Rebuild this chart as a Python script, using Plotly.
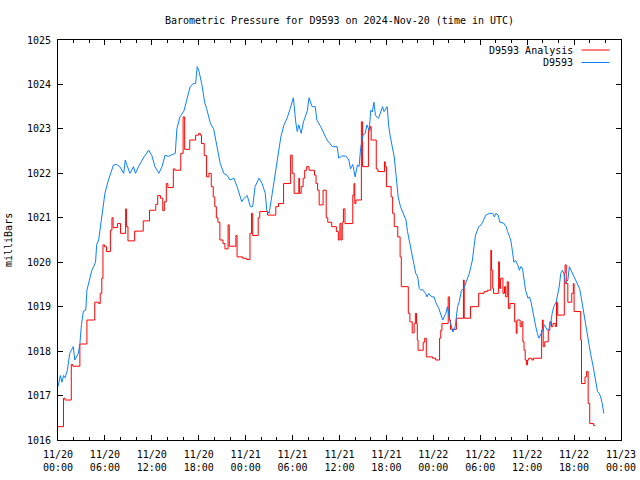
import pandas as pd
import plotly.graph_objects as go

# ---- data (hours since 2024-11-20 00:00 UTC, pressure in mbar) ----
analysis_hours = [0.0, 0.7, 0.9, 1.7, 1.9, 2.8, 3.7, 4.7, 5.2, 5.4, 5.6, 5.75, 5.95, 6.2, 6.7, 6.9,
                  7.05, 7.6, 8.0, 8.65, 8.75, 8.95, 9.8, 10.9, 11.7, 12.5, 12.75, 13.1, 13.4, 13.6,
                  13.85, 14.05, 14.75, 14.95, 15.7, 16.0, 16.2, 16.85, 17.6, 18.0, 18.2, 18.35, 18.7,
                  19.0, 19.3, 19.6, 19.85, 20.05, 20.25, 20.45, 20.7, 21.1, 21.35, 21.75, 21.9, 22.75,
                  22.9, 23.6, 24.1, 24.55, 24.75, 24.9, 25.6, 25.8, 26.8, 27.85, 28.2, 28.85, 29.75,
                  29.95, 30.2, 30.8, 30.9, 31.1, 31.35, 31.55, 31.8, 32.1, 32.8, 33.0, 33.2, 33.4,
                  33.9, 34.3, 34.5, 35.0, 35.6, 35.85, 36.05, 36.2, 36.35, 36.5, 36.7, 37.7, 37.85,
                  37.95, 38.1, 38.8, 38.95, 39.7, 39.9, 40.05, 40.7, 40.9, 41.75, 41.85, 42.0, 42.6,
                  42.8, 43.0, 43.45, 43.75, 43.9, 44.8, 45.0, 45.3, 45.55, 45.7, 45.85, 45.95, 46.05,
                  46.7, 46.9, 47.1, 47.9, 48.3, 48.8, 48.95, 49.1, 49.9, 50.05, 50.2, 50.95, 51.85,
                  51.95, 52.75, 53.8, 54.5, 54.9, 55.35, 55.45, 55.6, 55.7, 56.35, 56.45, 56.6, 56.9,
                  57.1, 57.25, 57.45, 57.6, 57.8, 58.4, 58.6, 58.7, 59.1, 59.3, 59.45, 59.6, 59.75,
                  59.9, 60.05, 60.2, 60.6, 60.8, 61.85, 61.95, 62.05, 62.25, 62.7, 62.9, 63.1, 63.3,
                  63.6, 63.75, 63.9, 64.75, 64.85, 65.0, 65.2, 65.7, 65.9, 66.0, 66.85, 66.95, 67.4,
                  67.6, 67.8, 68.0, 68.5, 68.7]
analysis_mbar = [1016.3, 1016.94, 1016.9, 1017.7, 1017.66, 1018.16, 1018.7, 1019.1, 1019.07, 1019.3,
                 1019.64, 1020.39, 1020.35, 1020.24, 1020.72, 1021.0, 1020.78, 1020.87, 1020.65,
                 1021.2, 1020.8, 1020.48, 1020.7, 1020.93, 1021.17, 1021.3, 1021.5, 1021.44, 1021.16,
                 1021.36, 1021.77, 1021.68, 1022.1, 1022.07, 1022.45, 1023.27, 1022.54, 1022.75,
                 1022.86, 1022.9, 1022.86, 1022.67, 1022.4, 1021.92, 1022.0, 1021.7, 1021.47,
                 1021.25, 1021.0, 1020.9, 1020.5, 1020.42, 1020.3, 1020.84, 1020.36, 1020.6,
                 1020.12, 1020.09, 1020.06, 1020.65, 1021.1, 1020.6, 1021.0, 1021.14, 1021.06,
                 1021.25, 1021.32, 1021.77, 1022.41, 1022.0, 1021.55, 1021.89, 1021.55, 1021.7,
                 1021.89, 1022.07, 1022.15, 1022.07, 1021.96, 1021.77, 1021.62, 1021.29, 1021.62,
                 1021.0, 1020.9, 1020.8, 1020.69, 1020.5, 1020.87, 1020.5, 1020.9, 1021.2, 1020.87,
                 1021.51, 1021.77, 1021.32, 1021.4, 1023.16, 1022.15, 1022.97, 1023.05, 1022.75,
                 1022.1, 1022.04, 1022.26, 1022.15, 1021.7, 1021.47, 1021.1, 1020.8, 1020.57,
                 1020.12, 1019.45, 1018.85, 1018.66, 1018.41, 1018.62, 1018.85, 1018.62, 1018.25,
                 1018.02, 1018.2, 1018.29, 1017.87, 1017.84, 1017.8, 1018.29, 1018.47, 1018.62,
                 1019.22, 1018.7, 1018.49, 1018.74, 1019.6, 1018.74, 1019.0, 1019.3, 1019.34,
                 1019.37, 1020.27, 1019.82, 1019.41, 1019.3, 1020.01, 1019.41, 1019.64, 1019.3,
                 1019.45, 1019.22, 1019.56, 1018.96, 1019.07, 1018.66, 1018.4, 1018.7, 1018.55,
                 1018.66, 1018.21, 1018.02, 1017.8, 1017.69, 1017.8, 1017.84, 1017.8, 1017.84,
                 1018.47, 1018.7, 1018.1, 1018.21, 1018.47, 1018.66, 1018.55, 1018.62, 1018.55,
                 1019.1, 1018.81, 1019.75, 1019.94, 1019.52, 1019.1, 1019.3, 1019.52, 1018.89,
                 1018.25, 1017.27, 1017.42, 1017.54, 1016.82, 1016.37, 1016.33, 1016.33]

station_hours = [0.0, 0.3, 0.5, 0.7, 0.9, 1.2, 1.5, 1.95, 2.15, 2.6, 2.8, 3.0, 3.25, 3.55, 3.7, 3.9,
                 4.3, 4.8, 4.95, 5.2, 5.6, 6.0, 6.45, 6.9, 7.1, 7.5, 7.9, 8.4, 8.6, 8.8, 9.2, 9.65,
                 9.9, 10.3, 11.0, 11.6, 12.0, 12.4, 12.9, 13.3, 13.7, 14.1, 14.6, 15.0, 15.2, 15.6,
                 16.1, 16.5, 16.9, 17.3, 17.6, 17.8, 18.0, 18.4, 18.75, 19.0, 19.5, 19.9, 20.3, 20.75,
                 21.2, 21.6, 22.0, 22.5, 22.9, 23.3, 23.5, 23.7, 24.2, 24.6, 24.9, 25.2, 25.7, 26.1,
                 26.5, 26.7, 27.0, 27.4, 27.8, 28.2, 28.5, 28.9, 29.3, 29.7, 30.1, 30.4, 30.6, 30.8,
                 31.1, 31.4, 31.9, 32.1, 32.5, 32.9, 33.1, 33.6, 34.0, 34.4, 35.1, 35.7, 35.9, 36.3,
                 36.8, 37.2, 37.4, 37.7, 38.0, 38.3, 38.5, 38.7, 39.0, 39.3, 39.5, 39.8, 40.0, 40.2,
                 40.4, 40.6, 41.0, 41.5, 41.7, 42.1, 42.3, 42.5, 43.0, 43.2, 43.5, 43.8, 44.2, 44.5,
                 44.7, 44.9, 45.3, 45.5, 45.75, 46.0, 46.2, 46.4, 46.6, 47.0, 47.2, 47.4, 47.8, 48.1,
                 48.3, 48.7, 48.9, 49.2, 49.6, 49.8, 50.1, 50.4, 50.5, 50.8, 51.1, 51.3, 51.6, 51.9,
                 52.3, 52.6, 52.8, 53.0, 53.2, 53.4, 53.8, 54.1, 54.3, 54.7, 55.2, 55.6, 55.8, 56.0,
                 56.3, 56.5, 57.0, 57.3, 57.5, 57.7, 57.9, 58.1, 58.3, 58.5, 58.8, 59.0, 59.2, 59.4,
                 59.6, 59.8, 60.1, 60.3, 60.5, 60.7, 60.9, 61.1, 61.3, 61.5, 61.8, 62.0, 62.2, 62.4,
                 62.6, 62.8, 63.0, 63.2, 63.4, 63.7, 63.9, 64.1, 64.3, 64.5, 64.7, 64.9, 65.2, 65.4,
                 65.6, 65.8, 66.0, 66.2, 66.4, 66.7, 66.9, 67.1, 67.3, 67.5, 67.7, 67.9, 68.1, 68.4,
                 68.6, 68.8, 69.0, 69.2, 69.4, 69.6, 69.8]
station_mbar = [1017.2, 1017.45, 1017.3, 1017.45, 1017.4, 1017.57, 1017.95, 1018.1, 1017.8, 1017.95,
                1018.17, 1018.6, 1018.9, 1018.92, 1019.37, 1019.5, 1019.8, 1020.0, 1020.4, 1020.5,
                1021.0, 1021.55, 1021.85, 1022.07, 1022.19, 1022.2, 1022.15, 1022.0, 1022.3, 1022.19,
                1022.0, 1022.15, 1022.0, 1022.15, 1022.37, 1022.52, 1022.4, 1022.15, 1022.0, 1022.15,
                1022.41, 1022.38, 1022.41, 1022.45, 1023.0, 1023.27, 1023.4, 1023.7, 1023.95, 1024.02,
                1024.02, 1024.4, 1024.32, 1024.0, 1023.6, 1023.46, 1023.12, 1023.0, 1022.6, 1022.22,
                1022.0, 1021.96, 1021.85, 1021.89, 1021.7, 1021.47, 1021.36, 1021.42, 1021.5, 1021.25,
                1021.25, 1021.7, 1021.89, 1021.77, 1021.55, 1021.17, 1021.1, 1021.55, 1022.0, 1022.45,
                1022.82, 1023.09, 1023.24, 1023.46, 1023.7, 1023.16, 1022.94, 1023.09, 1022.9,
                1023.16, 1023.42, 1023.7, 1023.5, 1023.5, 1023.2, 1023.05, 1022.9, 1022.75, 1022.6,
                1022.6, 1022.34, 1022.39, 1022.39, 1022.3, 1022.1, 1022.2, 1021.92, 1022.19, 1022.15,
                1022.56, 1022.86, 1022.9, 1023.09, 1022.97, 1023.42, 1023.38, 1023.6, 1023.3, 1023.24,
                1023.5, 1023.39, 1023.5, 1023.05, 1022.82, 1022.37, 1022.0, 1021.47, 1021.25, 1021.1,
                1020.95, 1020.69, 1020.5, 1020.2, 1019.97, 1019.75, 1019.67, 1019.41, 1019.37,
                1019.39, 1019.3, 1019.22, 1019.3, 1019.22, 1019.22, 1019.1, 1018.96, 1018.85, 1018.7,
                1018.85, 1019.0, 1018.7, 1018.47, 1018.43, 1018.55, 1019.0, 1019.1, 1019.37, 1019.41,
                1019.6, 1019.75, 1019.9, 1020.05, 1020.35, 1020.61, 1020.8, 1020.84, 1020.9, 1021.06,
                1021.1, 1021.1, 1021.02, 1021.1, 1021.06, 1020.9, 1020.88, 1020.8, 1020.69, 1020.57,
                1020.5, 1020.27, 1020.0, 1020.04, 1019.94, 1019.82, 1019.9, 1019.86, 1019.6, 1019.37,
                1019.19, 1019.22, 1019.1, 1018.89, 1018.7, 1018.55, 1018.4, 1018.29, 1018.4, 1018.47,
                1018.59, 1018.51, 1018.47, 1018.51, 1018.62, 1018.85, 1019.0, 1019.1, 1019.3, 1019.45,
                1019.75, 1019.82, 1019.75, 1019.52, 1019.6, 1019.9, 1019.82, 1019.75, 1019.67, 1019.6,
                1019.52, 1019.41, 1019.22, 1019.0, 1018.81, 1018.59, 1018.4, 1018.17, 1017.95,
                1017.69, 1017.5, 1017.27, 1017.09, 1017.05, 1016.97, 1016.82, 1016.6]

tick_hours = [0, 6, 12, 18, 24, 30, 36, 42, 48, 54, 60, 66, 72]
tick_labels = ["11/20<br>00:00", "11/20<br>06:00", "11/20<br>12:00", "11/20<br>18:00",
               "11/21<br>00:00", "11/21<br>06:00", "11/21<br>12:00", "11/21<br>18:00",
               "11/22<br>00:00", "11/22<br>06:00", "11/22<br>12:00", "11/22<br>18:00",
               "11/23<br>00:00"]
series_names = ["D9593 Analysis", "D9593"]
series_colors = ["#ff0000", "#0a80ff"]

base = pd.Timestamp("2024-11-20 00:00")
def to_time(hours):
    return [base + pd.Timedelta(hours=h) for h in hours]

FONT = "DejaVu Sans Mono"

fig = go.Figure()
fig.add_trace(go.Scatter(x=to_time(analysis_hours), y=analysis_mbar, mode="lines",
                         line=dict(color=series_colors[0], width=1, shape="hv"),
                         name=series_names[0], showlegend=False))
fig.add_trace(go.Scatter(x=to_time(station_hours), y=station_mbar, mode="lines",
                         line=dict(color=series_colors[1], width=1),
                         name=series_names[1], showlegend=False))

# gnuplot-style legend: text right-aligned, sample line to its right
for i, (nm, col) in enumerate(zip(series_names, series_colors)):
    yshift = -10 - 12.5 * i
    fig.add_annotation(x=1, y=1, xref="paper", yref="paper", text=nm, showarrow=False,
                       xanchor="right", yanchor="middle", xshift=-46, yshift=yshift,
                       font=dict(family=FONT, size=10, color="black"))
    fig.add_shape(type="line", xref="paper", yref="paper",
                  x0=(581.5 - 58) / 563, x1=(609.5 - 58) / 563,
                  y0=1 - (10 + 12.5 * i) / 400, y1=1 - (10 + 12.5 * i) / 400,
                  line=dict(color=col, width=1))

fig.add_annotation(x=0, y=0.5, xref="paper", yref="paper", text="milliBars", textangle=-90,
                   showarrow=False, xanchor="center", yanchor="middle", xshift=-50,
                   font=dict(family=FONT, size=10, color="black"))

fig.update_layout(
    width=640, height=480,
    margin=dict(l=58, r=19, t=40, b=40, autoexpand=False),
    paper_bgcolor="white", plot_bgcolor="white",
    font=dict(family=FONT, size=10, color="black"),
    title=dict(text="Barometric Pressure for D9593 on 2024-Nov-20 (time in UTC)",
               x=0.5, xref="paper", xanchor="center", y=1 - 20 / 480, yanchor="middle",
               font=dict(family=FONT, size=10, color="black")),
)
fig.update_xaxes(
    range=[base, base + pd.Timedelta(hours=72)],
    tickmode="array", tickvals=to_time(tick_hours), ticktext=tick_labels,
    ticks="inside", ticklen=5, tickcolor="black", tickwidth=1,
    minor=dict(dtick=2 * 3600 * 1000, ticks="inside", ticklen=3, tickcolor="black", tickwidth=1),
    showline=True, linecolor="black", linewidth=1, mirror="ticks",
    showgrid=False, zeroline=False, automargin=False, ticklabelstandoff=5,
    tickfont=dict(family=FONT, size=10, color="black"),
)
fig.update_yaxes(
    range=[1016, 1025], dtick=1, tick0=1016,
    ticks="inside", ticklen=5, tickcolor="black", tickwidth=1,
    showline=True, linecolor="black", linewidth=1, mirror="ticks",
    showgrid=False, zeroline=False, automargin=False, ticklabelstandoff=4,
    tickfont=dict(family=FONT, size=10, color="black"),
)

fig.write_html("out.html", config={"displayModeBar": False},
               post_script="document.body.style.margin='0';document.body.style.overflow='hidden';")
